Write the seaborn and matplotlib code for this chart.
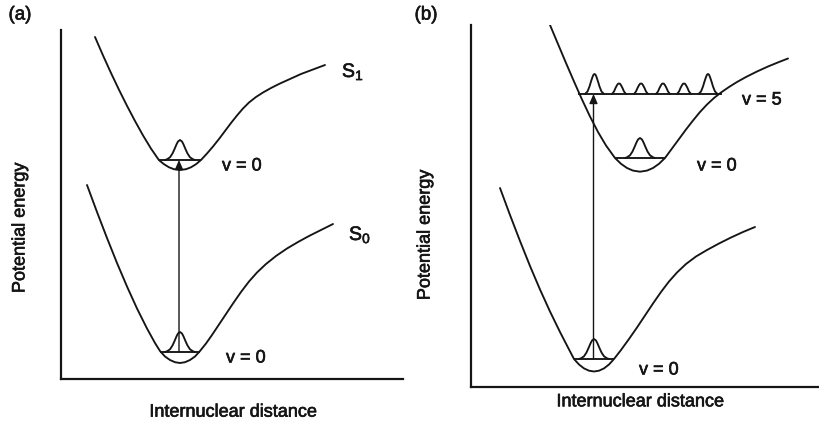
import matplotlib
matplotlib.use("Agg")
import matplotlib.pyplot as plt
import matplotlib.patheffects as pe
import seaborn as sns

# ---- panel (a): S0 / S1 potential wells (arbitrary units) ----
a_s1_x = [34, 42, 50, 58, 66, 74, 82, 90, 98, 103, 108, 113, 119, 125, 130, 135, 140,
          146, 152, 158, 164, 170, 176, 182, 188, 195, 202, 210, 219, 229, 240, 252, 264]
a_s1_y = [342, 323.6, 306, 289.2, 273.2, 258, 243.6, 230.4, 218.8, 214.8, 211.7, 209.8, 209,
          209.8, 211.7, 214.8, 219, 225.5, 232.5, 240, 248, 256, 263.5, 270.5, 276.5, 282,
          286.5, 291, 295.5, 300, 305, 309.5, 314]

a_s0_x = [26, 36, 46, 56, 66, 76, 86, 94, 99, 104, 109, 114, 119, 124, 129, 134, 139, 145,
          151, 158, 165, 172, 180, 188, 196, 205, 215, 226, 237, 248, 260, 272]
a_s0_y = [194, 167, 141, 116, 92.5, 70.5, 50.5, 36, 28, 22.5, 19, 16.8, 16, 16.8, 19, 22.5,
          28, 35.5, 44, 54.5, 65, 75.5, 87, 97.5, 106.5, 115, 123, 130.5, 137, 143, 149, 155]

# ---- panel (b) ----
b_s1_x = [79, 87, 95, 103, 111, 119, 127, 135, 144, 150, 156, 162, 169, 176, 182, 188, 194,
          201, 208, 215, 222, 229, 236, 243, 250, 258, 266, 275, 286, 297, 308, 317]
b_s1_y = [362, 343, 324, 305.5, 287.5, 270.5, 255, 241.5, 229, 223.2, 219, 216.4, 215.3,
          216.4, 219, 223.2, 229, 238.5, 248, 257.5, 266.5, 275, 282.5, 289, 294.5, 300,
          305, 310, 315.5, 320.5, 325, 328.5]

b_s0_x = [29, 39, 49, 59, 69, 79, 89, 97, 103, 108, 113, 118, 123, 128, 133, 138, 143, 150,
          158, 166, 174, 182, 190, 198, 206, 215, 225, 236, 248, 260, 272, 284]
b_s0_y = [199, 172, 146, 121, 97.5, 75.5, 55, 39.5, 28, 22.5, 18.6, 16.3, 15.5, 16.3, 18.6,
          22.5, 28, 37, 48, 59.5, 71.5, 83.5, 95, 105.5, 114.5, 123, 130.5, 137, 143.5,
          149.5, 155, 160]

# vibrational levels: (energy, left end, right end, wavefunction centre)
a_s1_v0 = (219, 98, 140, 119)
a_s0_v0 = (27, 99, 139, 119)
b_s1_v0 = (229, 144, 194, 169)
b_s0_v0 = (28, 103, 143, 123)
b_s1_v5 = (293, 107, 251)
b_v5_big = [123.5, 237]
b_v5_small = [148, 170, 192, 213]

# transition arrows: (x, from energy, to energy)
a_arrow = (118, 27, 219)
b_arrow = (122.5, 28, 293)

# wavefunction lobe shapes (offset, height)
v0_dx = [-15, -13, -10, -7.5, -5.5, -3.5, -2, 0, 2, 3.5, 5.5, 7.5, 10, 13, 15]
v0_h = [0, 0.7, 2.7, 6.5, 10.9, 15.6, 18.5, 20, 18.5, 15.6, 10.9, 6.5, 2.7, 0.7, 0]
big_dx = [-9.5, -7, -5, -3.5, -2, -1, 0, 1, 2, 3.5, 5, 7, 9.5]
big_h = [0, 2.5, 7.5, 12.5, 17, 19.3, 20, 19.3, 17, 12.5, 7.5, 2.5, 0]
small_dx = [-7, -5, -3.5, -2, -1, 0, 1, 2, 3.5, 5, 7]
small_h = [0, 2.5, 6, 8.8, 10.2, 10.5, 10.2, 8.8, 6, 2.5, 0]

sns.set_theme(style="white")
plt.rcParams["font.family"] = ["Liberation Sans", "DejaVu Sans"]
plt.rcParams["mathtext.fontset"] = "custom"
plt.rcParams["mathtext.rm"] = "Liberation Sans"
plt.rcParams["mathtext.default"] = "regular"

INK = "#151515"
LW = 1.35
FS = 13
# scanned-print look: text slightly heavier than regular
BOLDISH = [pe.withStroke(linewidth=0.45, foreground=INK)]


def curve(ax, xs, ys):
    sns.lineplot(x=xs, y=ys, ax=ax, color=INK, lw=LW, sort=False, estimator=None)


def lobe(ax, centre, base, dx, h):
    curve(ax, [centre + d for d in dx], [base + v for v in h])


def level(ax, e, x0, x1):
    ax.hlines(e, x0, x1, color=INK, lw=LW)


def arrow(ax, x, e0, e1):
    ax.annotate("", xy=(x, e1), xytext=(x, e0),
                arrowprops=dict(arrowstyle="-|>,head_length=0.8,head_width=0.35",
                                mutation_scale=7, color=INK, lw=1.0,
                                shrinkA=0, shrinkB=0))


def label(ax, x, y, s, size=FS):
    ax.text(x, y, s, fontsize=size, va="center", ha="left", color=INK,
            path_effects=BOLDISH)


def frame(ax, xmax, ymax):
    ax.set_xlim(0, xmax)
    ax.set_ylim(0, ymax)
    ax.set_xticks([])
    ax.set_yticks([])
    for s in ["top", "right"]:
        ax.spines[s].set_visible(False)
    for s in ["left", "bottom"]:
        ax.spines[s].set_color(INK)
        ax.spines[s].set_linewidth(1.6)
    ax.set_facecolor("white")


def axis_titles(ax, xpos, ypos):
    ax.text(xpos[0], xpos[1], "Internuclear distance", transform=ax.transAxes,
            fontsize=FS, ha="center", va="center", color=INK, clip_on=False,
            path_effects=BOLDISH)
    ax.text(ypos[0], ypos[1], "Potential energy", transform=ax.transAxes, rotation=90,
            fontsize=FS, ha="center", va="center", color=INK, clip_on=False,
            path_effects=BOLDISH)


fig = plt.figure(figsize=(8.19, 4.21), dpi=100)
W, H = 819, 421

# ---------------- (a) ----------------
ax1 = fig.add_axes([61 / W, (H - 379) / H, 342 / W, 349 / H])
frame(ax1, 342, 349)
curve(ax1, a_s1_x, a_s1_y)
curve(ax1, a_s0_x, a_s0_y)
for e, x0, x1, c in [a_s1_v0, a_s0_v0]:
    level(ax1, e, x0, x1)
    lobe(ax1, c, e, v0_dx, v0_h)
arrow(ax1, *a_arrow)

label(ax1, 281, 307, "S$_1$", 14)
label(ax1, 288, 144, "S$_0$", 14)
label(ax1, 161, 213, "v = 0")
label(ax1, 165, 21, "v = 0")
axis_titles(ax1, (0.503, -0.095), (-0.12, 0.433))

# ---------------- (b) ----------------
ax2 = fig.add_axes([471 / W, (H - 387) / H, 348 / W, 362 / H])
frame(ax2, 348, 362)
curve(ax2, b_s1_x, b_s1_y)
curve(ax2, b_s0_x, b_s0_y)
for e, x0, x1, c in [b_s1_v0, b_s0_v0]:
    level(ax2, e, x0, x1)
    lobe(ax2, c, e, v0_dx, v0_h)
e5, x05, x15 = b_s1_v5
level(ax2, e5, x05, x15)
for c in b_v5_big:
    lobe(ax2, c, e5, big_dx, big_h)
for c in b_v5_small:
    lobe(ax2, c, e5, small_dx, small_h)
arrow(ax2, *b_arrow)

label(ax2, 271, 287, "v = 5")
label(ax2, 226, 221, "v = 0")
label(ax2, 168, 17, "v = 0")
axis_titles(ax2, (0.486, -0.041), (-0.132, 0.42))

fig.text(20 / W, 1 - 15 / H, "(a)", fontsize=13.5, ha="center", va="center", color=INK,
         path_effects=BOLDISH)
fig.text(426 / W, 1 - 15 / H, "(b)", fontsize=13.5, ha="center", va="center", color=INK,
         path_effects=BOLDISH)

fig.savefig("out.png", dpi=100, facecolor="white")
